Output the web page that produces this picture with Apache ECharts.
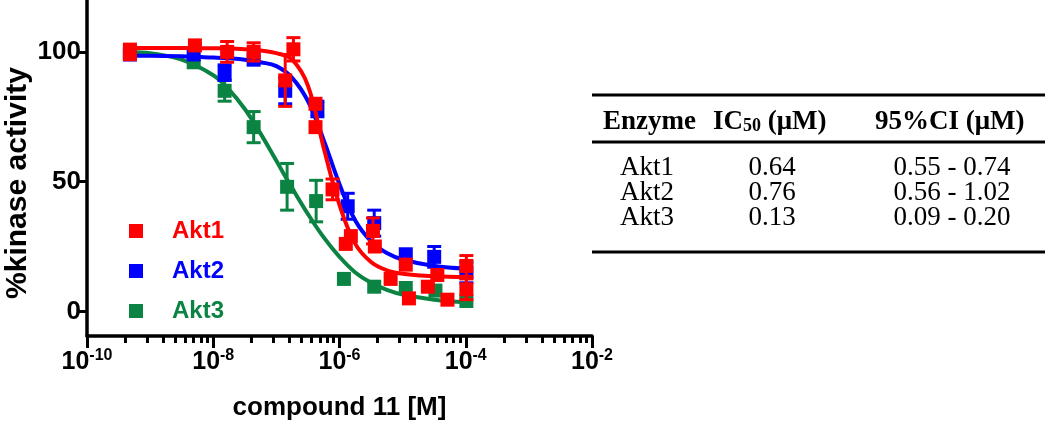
<!DOCTYPE html>
<html>
<head>
<meta charset="utf-8">
<script src="https://cdn.jsdelivr.net/npm/echarts@6/dist/echarts.min.js"></script>
<style>
html, body { margin: 0; padding: 0; background: #fff; }
#chart { width: 1050px; height: 426px; }
</style>
</head>
<body>
<div id="chart"></div>
<script>
// x values are log10 of compound concentration [M]
const akt1Conc = [-9.32, -8.29, -7.78, -7.36, -6.86, -6.73, -6.38, -6.38, -6.11, -5.90, -5.82, -5.47, -5.44, -5.19, -4.95, -4.90, -4.60, -4.45, -4.29, -3.99, -3.99];
const akt1Act  = [100, 102.5, 100, 100, 89, 101, 80, 71, 47, 26, 29, 31, 25, 12.5, 18, 5, 9.5, 14, 4.5, 17.5, 8.5];
const akt1Err  = [3, 0, 4, 3.5, 10, 4.5, 0, 0, 4, 0, 0, 5, 0, 0, 0, 0, 0, 0, 0, 4, 4];

const akt2Conc = [-9.32, -8.31, -7.82, -7.36, -6.86, -6.35, -5.87, -5.45, -4.95, -4.50, -3.99];
const akt2Act  = [99, 99, 92, 97, 85, 78, 40.5, 34, 22, 21, 15];
const akt2Err  = [1, 0, 3, 0, 5, 3, 5, 5, 0, 4, 4];

const akt3Conc = [-9.32, -8.31, -7.82, -7.36, -6.83, -6.37, -5.93, -5.45, -4.95, -4.48, -3.99];
const akt3Act  = [100, 96, 85, 71, 48, 42.5, 12.5, 9.5, 9, 8, 4];
const akt3Err  = [0, 0, 4, 6, 9, 8, 0, 0, 0, 0, 0];

// fitted curves
const fitConc = [-9.3, -9, -8.5, -8, -7.75, -7.5, -7.25, -7, -6.75, -6.5, -6.25, -6, -5.75, -5.5, -5.25, -5, -4.5, -4];
const akt1Fit = [101.5, 101.5, 101.5, 101.4, 101.3, 101, 100.5, 99.5, 97, 87, 63, 41, 26, 19, 15.8, 14.5, 13.5, 13.2];
const akt2Fit = [98.5, 98.5, 98.3, 97.8, 97.5, 97, 96, 94.5, 90, 81, 66, 49, 35, 27, 22.5, 20, 17.5, 16.5];
const akt3Fit = [100, 99.5, 97, 91, 85.5, 78, 68.5, 58, 47.5, 37.5, 28.5, 21, 15, 11, 8.3, 6.5, 4.5, 3.5];

const xTicks = [-10, -8, -6, -4, -2];
const yTicks = [0, 50, 100];

const tableEnzyme = ['Akt1', 'Akt2', 'Akt3'];
const tableIC50 = ['0.64', '0.76', '0.13'];
const tableCI = ['0.55 - 0.74', '0.56 - 1.02', '0.09 - 0.20'];

const RED = '#ff0000';
const BLUE = '#0000ff';
const GREEN = '#0b8443';
const SANS = '"Liberation Sans", Arial, Helvetica, sans-serif';
const SERIF = '"Liberation Serif", "Times New Roman", serif';

// minor ticks: Prism style, log-spaced inside each major interval
const minorTicks = [];
for (let i = 0; i < xTicks.length - 1; i++) {
    const a = xTicks[i], span = xTicks[i + 1] - xTicks[i];
    for (let k = 2; k <= 9; k++) minorTicks.push(a + span * Math.log10(k));
}

const pts = (xs, ys) => xs.map((x, i) => [x, ys[i]]);
const bars = (xs, ys, es) => xs.map((x, i) => [x, ys[i] - es[i], ys[i] + es[i]]).filter((d, i) => es[i] > 0);

function errSeries(name, color, data, z) {
    return {
        name: name, type: 'custom', silent: true, z: z,
        data: data,
        encode: { x: 0, y: [1, 2] },
        renderItem: function (params, api) {
            const x = api.value(0);
            const lo = api.coord([x, api.value(1)]);
            const hi = api.coord([x, api.value(2)]);
            const w = 7;
            const st = { stroke: color, lineWidth: 3 };
            return {
                type: 'group',
                children: [
                    { type: 'line', shape: { x1: lo[0], y1: lo[1], x2: hi[0], y2: hi[1] }, style: st },
                    { type: 'line', shape: { x1: lo[0] - w, y1: lo[1], x2: lo[0] + w, y2: lo[1] }, style: st },
                    { type: 'line', shape: { x1: hi[0] - w, y1: hi[1], x2: hi[0] + w, y2: hi[1] }, style: st }
                ]
            };
        }
    };
}

function fitSeries(name, color, ys, z) {
    return {
        name: name, type: 'line', data: pts(fitConc, ys), smooth: 0.4,
        showSymbol: false, silent: true, z: z,
        lineStyle: { color: color, width: 4 }
    };
}

function dotSeries(name, color, xs, ys, z) {
    return {
        name: name, type: 'scatter', data: pts(xs, ys), z: z,
        symbol: 'rect', symbolSize: 14,
        itemStyle: { color: color, opacity: 1 }
    };
}

// table on the right
const tableLines = [95, 142, 252].map(y => ({
    type: 'line', shape: { x1: 592, y1: y, x2: 1045, y2: y },
    style: { stroke: '#000', lineWidth: 3 }
}));
const headFont = { fontFamily: SERIF, fontSize: 27, fontWeight: 'bold', fill: '#000' };
const bodyFont = { fontFamily: SERIF, fontSize: 27, fill: '#000' };
const tableTexts = [
    { type: 'text', x: 603, y: 122, style: Object.assign({ text: 'Enzyme', align: 'left', verticalAlign: 'middle' }, headFont) },
    { type: 'text', x: 713, y: 122, style: Object.assign({
        text: '{b|IC}{s|50}{b| (μM)}', align: 'left', verticalAlign: 'middle',
        rich: {
            b: { fontFamily: SERIF, fontSize: 27, fontWeight: 'bold' },
            s: { fontFamily: SERIF, fontSize: 18, fontWeight: 'bold', padding: [9, 0, 0, 0] }
        }
    }, headFont) },
    { type: 'text', x: 875, y: 122, style: Object.assign({ text: '95%CI (μM)', align: 'left', verticalAlign: 'middle' }, headFont) }
];
tableEnzyme.forEach((name, i) => {
    const y = 168 + i * 25;
    tableTexts.push(
        { type: 'text', x: 647, y: y, style: Object.assign({ text: name, align: 'center', verticalAlign: 'middle' }, bodyFont) },
        { type: 'text', x: 772, y: y, style: Object.assign({ text: tableIC50[i], align: 'center', verticalAlign: 'middle' }, bodyFont) },
        { type: 'text', x: 952, y: y, style: Object.assign({ text: tableCI[i], align: 'center', verticalAlign: 'middle' }, bodyFont) }
    );
});

const chart = echarts.init(document.getElementById('chart'), null, { renderer: 'canvas' });

const option = {
    animation: false,
    backgroundColor: '#fff',
    grid: { left: 87, right: 458, top: 0, bottom: 88 },
    legend: {
        orient: 'vertical', left: 124, top: 214,
        itemWidth: 14, itemHeight: 14, itemGap: 16,
        formatter: name => '{t|' + name + '}',
        textStyle: {
            fontFamily: SANS, fontSize: 24, fontWeight: 'bold',
            rich: { t: { fontFamily: SANS, fontSize: 24, fontWeight: 'bold', padding: [0, 0, 0, 24] } }
        },
        data: [
            { name: 'Akt1', icon: 'rect', itemStyle: { color: RED }, textStyle: { color: RED } },
            { name: 'Akt2', icon: 'rect', itemStyle: { color: BLUE }, textStyle: { color: BLUE } },
            { name: 'Akt3', icon: 'rect', itemStyle: { color: GREEN }, textStyle: { color: GREEN } }
        ]
    },
    xAxis: [
        {
            type: 'value', min: -10, max: -2, interval: 2,
            name: 'compound 11 [M]', nameLocation: 'middle', nameGap: 59,
            nameTextStyle: { fontFamily: SANS, fontSize: 26, fontWeight: 'bold', color: '#000' },
            axisLine: { onZero: false, lineStyle: { color: '#000', width: 3.5 } },
            axisTick: { length: 12, lineStyle: { color: '#000', width: 3 } },
            splitLine: { show: false },
            axisLabel: {
                margin: 12, color: '#000',
                formatter: v => '{b|10}{s|' + v + '}',
                rich: {
                    b: { fontFamily: SANS, fontSize: 25, fontWeight: 'bold', color: '#000' },
                    s: { fontFamily: SANS, fontSize: 16, fontWeight: 'bold', color: '#000', padding: [0, 0, 12, 0] }
                }
            }
        },
        {
            type: 'value', min: -10, max: -2, position: 'bottom',
            axisLine: { show: false, onZero: false },
            axisTick: { show: true, length: 7, customValues: minorTicks, lineStyle: { color: '#000', width: 3 } },
            axisLabel: { show: false },
            splitLine: { show: false }
        }
    ],
    yAxis: {
        type: 'value', min: -9.5, max: 120,
        name: '%kinase activity', nameLocation: 'middle', nameRotate: 90, nameGap: 54,
        nameTextStyle: { fontFamily: SANS, fontSize: 30, fontWeight: 'bold', color: '#000', padding: [0, 30, 0, 0] },
        axisLine: { show: true, onZero: false, lineStyle: { color: '#000', width: 3.5 } },
        axisTick: { show: true, length: 9, customValues: yTicks, lineStyle: { color: '#000', width: 3 } },
        axisLabel: {
            customValues: yTicks, margin: 6,
            fontFamily: SANS, fontSize: 26, fontWeight: 'bold', color: '#000'
        },
        splitLine: { show: false }
    },
    series: [
        fitSeries('Akt3 fit', GREEN, akt3Fit, 2),
        errSeries('Akt3 SEM', GREEN, bars(akt3Conc, akt3Act, akt3Err), 3),
        dotSeries('Akt3', GREEN, akt3Conc, akt3Act, 4),
        fitSeries('Akt2 fit', BLUE, akt2Fit, 5),
        errSeries('Akt2 SEM', BLUE, bars(akt2Conc, akt2Act, akt2Err), 6),
        dotSeries('Akt2', BLUE, akt2Conc, akt2Act, 7),
        fitSeries('Akt1 fit', RED, akt1Fit, 8),
        errSeries('Akt1 SEM', RED, bars(akt1Conc, akt1Act, akt1Err), 9),
        dotSeries('Akt1', RED, akt1Conc, akt1Act, 10)
    ],
    graphic: tableLines.concat(tableTexts)
};

chart.setOption(option);
</script>
</body>
</html>
